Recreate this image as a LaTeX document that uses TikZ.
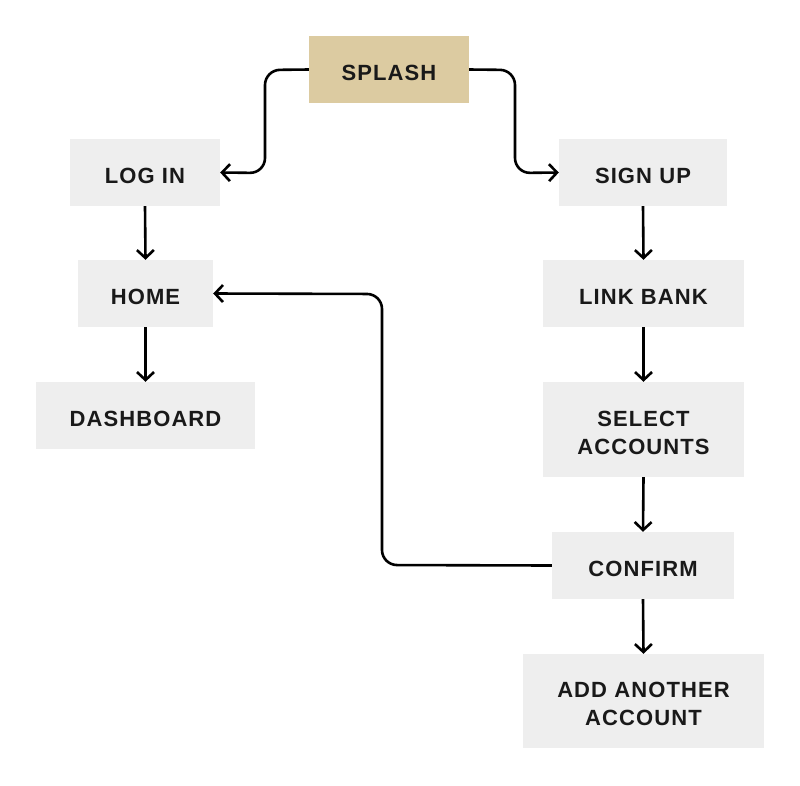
\documentclass[tikz,border=0pt]{standalone}
\usepackage{fontspec}
\setmainfont{Liberation Sans}[LetterSpace=5]
\usetikzlibrary{arrows.meta}
\definecolor{boxgray}{HTML}{EEEEEE}
\definecolor{splashtan}{HTML}{DCCBA1}
\begin{document}
\begin{tikzpicture}[x=1pt,y=-1pt,
  box/.style={fill=boxgray, draw=none, inner sep=0pt},
  lbl/.style={inner sep=0pt, align=center,
    font=\fontsize{22}{28}\selectfont\bfseries, text=black!90},
  conn/.style={line width=2.6pt, -{Straight Barb[length=8pt,width=17pt,line width=2.6pt]}, rounded corners=15pt}]
\useasboundingbox (0,0) rectangle (800,785);
\newcommand{\bx}[7]{\node[box, minimum width=#4-#2, minimum height=#5-#3, #6] (#1) at ({(#2+#4)/2},{(#3+#5)/2}) {};
  \node[lbl] (#1-t) at ([yshift=-3pt]#1.center) {#7};}
\bx{splash}{309}{36}{469}{103}{fill=splashtan}{SPLASH}
\bx{login}{70}{139}{220}{206}{}{LOG IN}
\bx{signup}{559}{139}{727}{206}{}{SIGN UP}
\bx{home}{78}{260}{213}{327}{}{HOME}
\bx{link}{543}{260}{744}{327}{}{LINK BANK}
\bx{dash}{36}{382}{255}{449}{}{DASHBOARD}
\bx{select}{543}{382}{744}{477}{}{SELECT\\ACCOUNTS}
\bx{confirm}{552}{532}{734}{599}{}{CONFIRM}
\bx{add}{523}{654}{764}{748}{}{ADD ANOTHER\\ACCOUNT}
\draw[conn] (splash.west) -- (265,70) -- (265,173) -- (login.east);
\draw[conn] (splash.east) -- (515,70) -- (515,173) -- (signup.west);
\draw[conn] (login.south) -- (home.north);
\draw[conn] (home.south) -- (dash.north);
\draw[conn] (signup.south) -- (link.north);
\draw[conn] (link.south) -- (select.north);
\draw[conn] (select.south) -- (confirm.north);
\draw[conn] (confirm.south) -- (add.north);
\draw[conn] (confirm.west) -- (382,565) -- (382,294) -- (home.east);
\end{tikzpicture}
\end{document}
